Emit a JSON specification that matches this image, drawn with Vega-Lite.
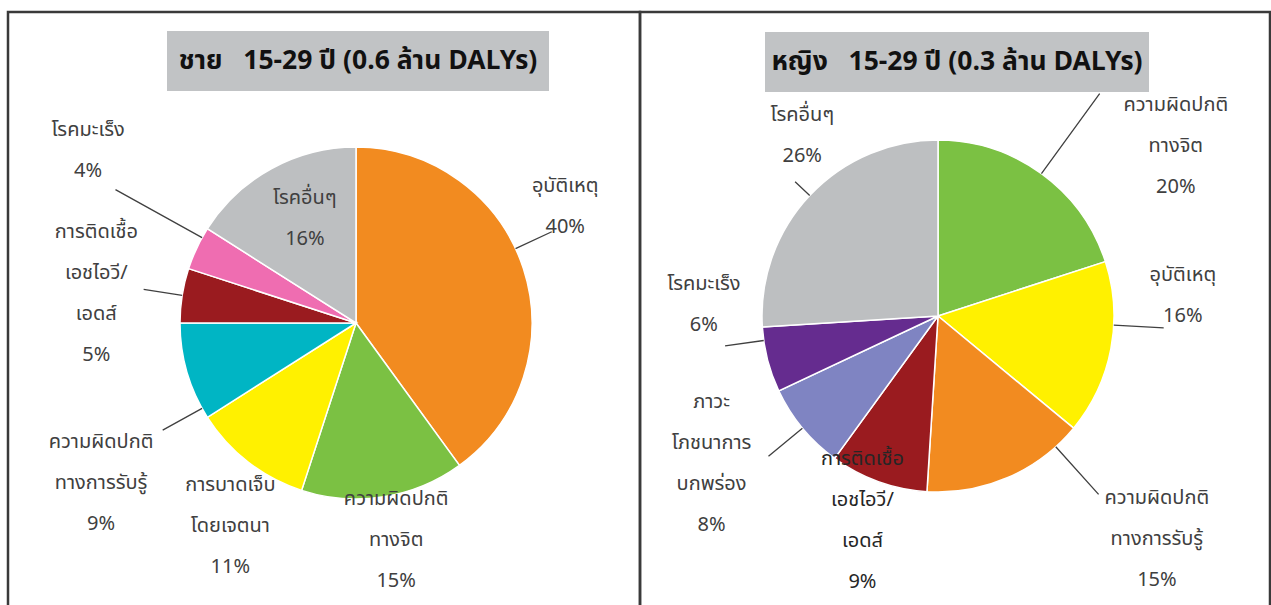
{
  "$schema": "https://vega.github.io/schema/vega-lite/v6.json",
  "padding": {"left": 6, "top": 10, "right": 0, "bottom": 0},
  "spacing": 0,
  "bounds": "flush",
  "background": "white",
  "resolve": {"scale": {"color": "independent", "theta": "independent"}},
  "config": {
    "view": {"stroke": "#3a3a3a", "strokeWidth": 2.5},
    "font": "Tahoma, 'Noto Sans Thai', 'Noto Sans', 'DejaVu Sans', sans-serif",
    "text": {"font": "Tahoma, 'Noto Sans Thai', 'Noto Sans', 'DejaVu Sans', sans-serif", "fontSize": 20, "lineBreak": "|", "lineHeight": 41, "color": "#404040", "align": "center", "baseline": "middle", "clip": true},
    "arc": {"stroke": null}
  },
  "datasets": {
    "male": [
      {"idx": 1, "cause": "อุบัติเหตุ", "pct": 40, "label": "อุบัติเหตุ|40%"},
      {"idx": 2, "cause": "ความผิดปกติทางจิต", "pct": 15, "label": "ความผิดปกติ|ทางจิต|15%"},
      {"idx": 3, "cause": "การบาดเจ็บโดยเจตนา", "pct": 11, "label": "การบาดเจ็บ|โดยเจตนา|11%"},
      {"idx": 4, "cause": "ความผิดปกติทางการรับรู้", "pct": 9, "label": "ความผิดปกติ|ทางการรับรู้|9%"},
      {"idx": 5, "cause": "การติดเชื้อเอชไอวี/เอดส์", "pct": 5, "label": "การติดเชื้อ|เอชไอวี/|เอดส์|5%"},
      {"idx": 6, "cause": "โรคมะเร็ง", "pct": 4, "label": "โรคมะเร็ง|4%"},
      {"idx": 7, "cause": "โรคอื่นๆ", "pct": 16, "label": "โรคอื่นๆ|16%"}
    ],
    "female": [
      {"idx": 1, "cause": "ความผิดปกติทางจิต", "pct": 20, "label": "ความผิดปกติ|ทางจิต|20%"},
      {"idx": 2, "cause": "อุบัติเหตุ", "pct": 16, "label": "อุบัติเหตุ|16%"},
      {"idx": 3, "cause": "ความผิดปกติทางการรับรู้", "pct": 15, "label": "ความผิดปกติ|ทางการรับรู้|15%"},
      {"idx": 4, "cause": "การติดเชื้อเอชไอวี/เอดส์", "pct": 9, "label": "การติดเชื้อ|เอชไอวี/|เอดส์|9%"},
      {"idx": 5, "cause": "ภาวะโภชนาการบกพร่อง", "pct": 8, "label": "ภาวะ|โภชนาการ|บกพร่อง|8%"},
      {"idx": 6, "cause": "โรคมะเร็ง", "pct": 6, "label": "โรคมะเร็ง|6%"},
      {"idx": 7, "cause": "โรคอื่นๆ", "pct": 26, "label": "โรคอื่นๆ|26%"}
    ]
  },
  "hconcat": [
    {
      "width": 632,
      "height": 600,
      "data": {"name": "male"},
      "encoding": {
        "theta": {"field": "pct", "type": "quantitative", "stack": true, "scale": {"domain": [0, 100]}},
        "order": {"field": "idx", "type": "quantitative"},
        "x": {"value": 348}, "y": {"value": 311}
      },
      "layer": [
        {
          "data": {"values": [{"t": "ชาย\u00a0\u00a0 15-29 ปี (0.6 ล้าน DALYs)"}]},
          "mark": {"type": "rect", "color": "#c1c3c5"},
          "encoding": {"theta": null, "order": null, "x": {"value": 159}, "x2": {"value": 541}, "y": {"value": 19}, "y2": {"value": 79}}
        },
        {
          "data": {"values": [{"t": "ชาย\u00a0\u00a0 15-29 ปี (0.6 ล้าน DALYs)"}]},
          "mark": {"type": "text", "fontSize": 26.5, "fontWeight": "bold", "color": "#111111", "clip": false},
          "encoding": {"theta": null, "order": null, "text": {"field": "t"}, "x": {"value": 350}, "y": {"value": 49}}
        },
        {
          "mark": {"type": "arc", "outerRadius": 176, "stroke": "white", "strokeWidth": 1.5},
          "encoding": {
            "color": {"field": "cause", "type": "nominal", "legend": null,
              "scale": {"domain": ["อุบัติเหตุ", "ความผิดปกติทางจิต", "การบาดเจ็บโดยเจตนา", "ความผิดปกติทางการรับรู้", "การติดเชื้อเอชไอวี/เอดส์", "โรคมะเร็ง", "โรคอื่นๆ"],
                        "range": ["#f28b20", "#7bc143", "#fff100", "#00b5c4", "#9a1b1f", "#ef6db1", "#bdbfc1"]}}
          }
        },
        {"mark": {"type": "arc", "innerRadius": 176, "outerRadius": 216, "color": "#404040", "stroke": "#404040", "strokeWidth": 1.3, "thetaOffset": -1.3788, "theta2Offset": -1.3788},
         "encoding": {"order": null, "theta": {"field": "pct", "type": "quantitative", "stack": null}, "theta2": {"field": "pct"}, "opacity": {"condition": {"test": "datum.idx == 1", "value": 1}, "value": 0}}},
        {"mark": {"type": "arc", "innerRadius": 176, "outerRadius": 221, "color": "#404040", "stroke": "#404040", "strokeWidth": 1.3, "thetaOffset": 3.6408, "theta2Offset": 3.6408},
         "encoding": {"order": null, "theta": {"field": "pct", "type": "quantitative", "stack": null}, "theta2": {"field": "pct"}, "opacity": {"condition": {"test": "datum.idx == 4", "value": 1}, "value": 0}}},
        {"mark": {"type": "arc", "innerRadius": 176, "outerRadius": 215, "color": "#404040", "stroke": "#404040", "strokeWidth": 1.3, "thetaOffset": 4.5553, "theta2Offset": 4.5553},
         "encoding": {"order": null, "theta": {"field": "pct", "type": "quantitative", "stack": null}, "theta2": {"field": "pct"}, "opacity": {"condition": {"test": "datum.idx == 5", "value": 1}, "value": 0}}},
        {"mark": {"type": "arc", "innerRadius": 176, "outerRadius": 275, "color": "#404040", "stroke": "#404040", "strokeWidth": 1.3, "thetaOffset": 4.9672, "theta2Offset": 4.9672},
         "encoding": {"order": null, "theta": {"field": "pct", "type": "quantitative", "stack": null}, "theta2": {"field": "pct"}, "opacity": {"condition": {"test": "datum.idx == 6", "value": 1}, "value": 0}}},
        {"mark": {"type": "text", "radius": 241, "dx": -20, "dy": -63},
         "encoding": {"text": {"condition": {"test": "datum.idx == 1", "field": "label"}, "value": ""}}},
        {"mark": {"type": "text", "radius": 180, "dx": 12, "dy": -2},
         "encoding": {"text": {"condition": {"test": "datum.idx == 2", "field": "label"}, "value": ""}}},
        {"mark": {"type": "text", "radius": 205},
         "encoding": {"text": {"condition": {"test": "datum.idx == 3", "field": "label"}, "value": ""}}},
        {"mark": {"type": "text", "radius": 278, "dx": 12, "dy": 41},
         "encoding": {"text": {"condition": {"test": "datum.idx == 4", "field": "label"}, "value": ""}}},
        {"mark": {"type": "text", "radius": 271, "dx": 8, "dy": -49},
         "encoding": {"text": {"condition": {"test": "datum.idx == 5", "field": "label"}, "value": ""}}},
        {"mark": {"type": "text", "radius": 200, "dx": -87, "dy": -108},
         "encoding": {"text": {"condition": {"test": "datum.idx == 6", "field": "label"}, "value": ""}}},
        {"mark": {"type": "text", "radius": 133, "dx": 13, "dy": -8},
         "encoding": {"text": {"condition": {"test": "datum.idx == 7", "field": "label"}, "value": ""}}}
      ]
    },
    {
      "width": 630,
      "height": 600,
      "data": {"name": "female"},
      "encoding": {
        "theta": {"field": "pct", "type": "quantitative", "stack": true, "scale": {"domain": [0, 100]}},
        "order": {"field": "idx", "type": "quantitative"},
        "x": {"value": 298}, "y": {"value": 304}
      },
      "layer": [
        {
          "data": {"values": [{"t": "หญิง\u00a0\u00a0 15-29 ปี (0.3 ล้าน DALYs)"}]},
          "mark": {"type": "rect", "color": "#c1c3c5"},
          "encoding": {"theta": null, "order": null, "x": {"value": 125}, "x2": {"value": 509}, "y": {"value": 20}, "y2": {"value": 80}}
        },
        {
          "data": {"values": [{"t": "หญิง\u00a0\u00a0 15-29 ปี (0.3 ล้าน DALYs)"}]},
          "mark": {"type": "text", "fontSize": 26.5, "fontWeight": "bold", "color": "#111111", "clip": false},
          "encoding": {"theta": null, "order": null, "text": {"field": "t"}, "x": {"value": 317}, "y": {"value": 50}}
        },
        {
          "mark": {"type": "arc", "outerRadius": 176, "stroke": "white", "strokeWidth": 1.5},
          "encoding": {
            "color": {"field": "cause", "type": "nominal", "legend": null,
              "scale": {"domain": ["ความผิดปกติทางจิต", "อุบัติเหตุ", "ความผิดปกติทางการรับรู้", "การติดเชื้อเอชไอวี/เอดส์", "ภาวะโภชนาการบกพร่อง", "โรคมะเร็ง", "โรคอื่นๆ"],
                        "range": ["#7bc143", "#fff100", "#f28b20", "#9a1b1f", "#7f84c2", "#652c8f", "#bdbfc1"]}}
          }
        },
        {"mark": {"type": "arc", "innerRadius": 176, "outerRadius": 275, "color": "#404040", "stroke": "#404040", "strokeWidth": 1.3, "thetaOffset": -0.6283, "theta2Offset": -0.6283},
         "encoding": {"order": null, "theta": {"field": "pct", "type": "quantitative", "stack": null}, "theta2": {"field": "pct"}, "opacity": {"condition": {"test": "datum.idx == 1", "value": 1}, "value": 0}}},
        {"mark": {"type": "arc", "innerRadius": 176, "outerRadius": 226, "color": "#404040", "stroke": "#404040", "strokeWidth": 1.3, "thetaOffset": 0.6178, "theta2Offset": 0.6178},
         "encoding": {"order": null, "theta": {"field": "pct", "type": "quantitative", "stack": null}, "theta2": {"field": "pct"}, "opacity": {"condition": {"test": "datum.idx == 2", "value": 1}, "value": 0}}},
        {"mark": {"type": "arc", "innerRadius": 176, "outerRadius": 240, "color": "#404040", "stroke": "#404040", "strokeWidth": 1.3, "thetaOffset": 1.4661, "theta2Offset": 1.4661},
         "encoding": {"order": null, "theta": {"field": "pct", "type": "quantitative", "stack": null}, "theta2": {"field": "pct"}, "opacity": {"condition": {"test": "datum.idx == 3", "value": 1}, "value": 0}}},
        {"mark": {"type": "arc", "innerRadius": 176, "outerRadius": 220, "color": "#404040", "stroke": "#404040", "strokeWidth": 1.3, "thetaOffset": 3.5186, "theta2Offset": 3.5186},
         "encoding": {"order": null, "theta": {"field": "pct", "type": "quantitative", "stack": null}, "theta2": {"field": "pct"}, "opacity": {"condition": {"test": "datum.idx == 5", "value": 1}, "value": 0}}},
        {"mark": {"type": "arc", "innerRadius": 176, "outerRadius": 215, "color": "#404040", "stroke": "#404040", "strokeWidth": 1.3, "thetaOffset": 4.1957, "theta2Offset": 4.1957},
         "encoding": {"order": null, "theta": {"field": "pct", "type": "quantitative", "stack": null}, "theta2": {"field": "pct"}, "opacity": {"condition": {"test": "datum.idx == 6", "value": 1}, "value": 0}}},
        {"mark": {"type": "arc", "innerRadius": 176, "outerRadius": 196, "color": "#404040", "stroke": "#404040", "strokeWidth": 1.3, "thetaOffset": 3.8327, "theta2Offset": 3.8327},
         "encoding": {"order": null, "theta": {"field": "pct", "type": "quantitative", "stack": null}, "theta2": {"field": "pct"}, "opacity": {"condition": {"test": "datum.idx == 7", "value": 1}, "value": 0}}},
        {"mark": {"type": "text", "radius": 311, "dx": 55, "dy": 41},
         "encoding": {"text": {"condition": {"test": "datum.idx == 1", "field": "label"}, "value": ""}}},
        {"mark": {"type": "text", "radius": 233, "dx": 16, "dy": -85},
         "encoding": {"text": {"condition": {"test": "datum.idx == 2", "field": "label"}, "value": ""}}},
        {"mark": {"type": "text", "radius": 254, "dx": 118, "dy": -51},
         "encoding": {"text": {"condition": {"test": "datum.idx == 3", "field": "label"}, "value": ""}}},
        {"mark": {"type": "text", "radius": 161, "dx": -21, "dy": -8, "color": "#262626"},
         "encoding": {"text": {"condition": {"test": "datum.idx == 4", "field": "label"}, "value": ""}}},
        {"mark": {"type": "text", "radius": 229, "dx": -50, "dy": -60},
         "encoding": {"text": {"condition": {"test": "datum.idx == 5", "field": "label"}, "value": ""}}},
        {"mark": {"type": "text", "radius": 219, "dx": -22, "dy": -86},
         "encoding": {"text": {"condition": {"test": "datum.idx == 6", "field": "label"}, "value": ""}}},
        {"mark": {"type": "text", "radius": 237, "dx": 37, "dy": -39},
         "encoding": {"text": {"condition": {"test": "datum.idx == 7", "field": "label"}, "value": ""}}}
      ]
    }
  ]
}
